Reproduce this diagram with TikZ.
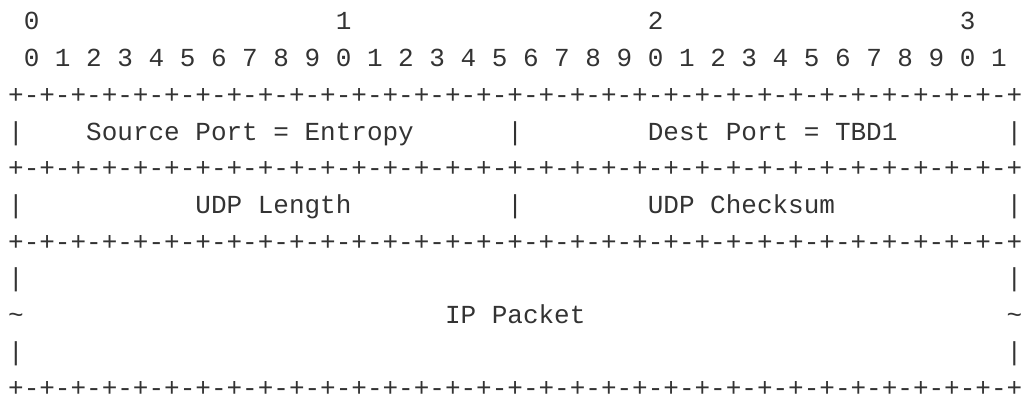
\documentclass[tikz,border=0pt]{standalone}
\usepackage{fontspec}
\setmonofont{Liberation Mono}
\definecolor{ink}{HTML}{333333}
\newcommand\bordline{+-+-+-+-+-+-+-+-+-+-+-+-+-+-+-+-+-+-+-+-+-+-+-+-+-+-+-+-+-+-+-+-+}
\tikzset{
  txt/.style={anchor=base west, inner sep=0pt, outer sep=0pt, text=ink,
    font=\ttfamily\fontsize{26}{26}\selectfont}
}
\begin{document}
\begin{tikzpicture}[x=1pt,y=-1pt]
\useasboundingbox (0,0) rectangle (1025,401);
% line 0
\node[txt] (h0) at ({8.2+15.6*1},{30+36.67*0}) {0};
\node[txt] (h1) at ({8.2+15.6*21},{30+36.67*0}) {1};
\node[txt] (h2) at ({8.2+15.6*41},{30+36.67*0}) {2};
\node[txt] (h3) at ({8.2+15.6*61},{30+36.67*0}) {3};
% line 1
\node[txt] (bits) at ({8.2+15.6*1},{30+36.67*1}) {0 1 2 3 4 5 6 7 8 9 0 1 2 3 4 5 6 7 8 9 0 1 2 3 4 5 6 7 8 9 0 1};
% borders
\node[txt] (b1) at ({8.2},{30+36.67*2}) {\bordline};
\node[txt] (b2) at ({8.2},{30+36.67*4}) {\bordline};
\node[txt] (b3) at ({8.2},{30+36.67*6}) {\bordline};
\node[txt] (b4) at ({8.2},{30+36.67*10}) {\bordline};
% line 3
\node[txt] (r3a) at ({8.2+15.6*0},{30+36.67*3}) {|};
\node[txt] (src) at ({8.2+15.6*5},{30+36.67*3}) {Source Port = Entropy};
\node[txt] (r3b) at ({8.2+15.6*32},{30+36.67*3}) {|};
\node[txt] (dst) at ({8.2+15.6*41},{30+36.67*3}) {Dest Port = TBD1};
\node[txt] (r3c) at ({8.2+15.6*64},{30+36.67*3}) {|};
% line 5
\node[txt] (r5a) at ({8.2+15.6*0},{30+36.67*5}) {|};
\node[txt] (len) at ({8.2+15.6*12},{30+36.67*5}) {UDP Length};
\node[txt] (r5b) at ({8.2+15.6*32},{30+36.67*5}) {|};
\node[txt] (chk) at ({8.2+15.6*41},{30+36.67*5}) {UDP Checksum};
\node[txt] (r5c) at ({8.2+15.6*64},{30+36.67*5}) {|};
% lines 7-9
\node[txt] (r7a) at ({8.2+15.6*0},{30+36.67*7}) {|};
\node[txt] (r7b) at ({8.2+15.6*64},{30+36.67*7}) {|};
\node[txt] (r8a) at ({8.2+15.6*0},{30+36.67*8}) {\textasciitilde};
\node[txt] (ip)  at ({8.2+15.6*28},{30+36.67*8}) {IP Packet};
\node[txt] (r8b) at ({8.2+15.6*64},{30+36.67*8}) {\textasciitilde};
\node[txt] (r9a) at ({8.2+15.6*0},{30+36.67*9}) {|};
\node[txt] (r9b) at ({8.2+15.6*64},{30+36.67*9}) {|};
\end{tikzpicture}
\end{document}
